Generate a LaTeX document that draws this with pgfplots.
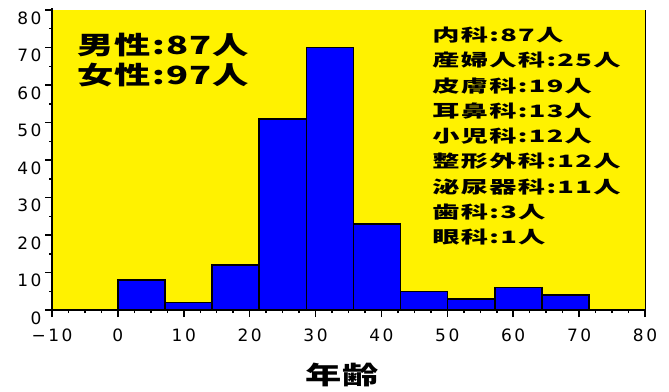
\documentclass[border=0pt]{standalone}
\usepackage{pgfplots}
\pgfplotsset{compat=1.18}
\usepackage{fontspec}
\newfontfamily\tickfont[LetterSpace=15]{DejaVu Sans}
\newfontfamily\cjk[FakeStretch=1.45,LetterSpace=5]{Noto Sans CJK JP}
\newfontfamily\cjkl[FakeStretch=1.6,LetterSpace=8]{Noto Sans CJK JP}
\tikzset{
  lst/.style={anchor=west, inner sep=0pt, font=\cjkl\bfseries\fontsize{17}{17}\selectfont},
  big/.style={anchor=west, inner sep=0pt, font=\cjk\bfseries\fontsize{25}{25}\selectfont},
}
\begin{document}
\begin{tikzpicture}
\begin{axis}[name=ax,
  scale only axis, width=593pt, height=300pt,
  xmin=-10, xmax=80, ymin=0, ymax=80,
  xtick={-10,0,...,80},
  xticklabels={−10,0,10,20,30,40,50,60,70,80},
  ytick={0,10,...,80},
  minor x tick num=3, minor y tick num=1,
  tick align=outside, xtick pos=bottom, ytick pos=left,
  major tick length=7pt, minor tick length=3pt,
  every tick/.style={black, line width=1.5pt},
  axis line style={draw=none},
  axis background/.style={fill=yellow},
  /pgf/number format/assume math mode=true,
  tick label style={font=\tickfont\fontsize{17}{17}\selectfont},
  x tick label style={yshift=-8pt},
  y tick label style={yshift=-8pt},
  clip=false,
]
\addplot[ybar interval, fill=blue, draw=black, line width=1.5pt]
  coordinates {(0,8)(7.15,2)(14.3,12)(21.45,51)(28.6,70)(35.75,23)(42.9,5)(50.05,3)(57.2,6)(64.35,4)(71.5,4)};
\draw[line width=1pt] (rel axis cs:1,0) -- (rel axis cs:1,1);
\draw[line width=2.5pt] (rel axis cs:0,1.005) -- (rel axis cs:0,0) -- (rel axis cs:1,0);
\node[big] at (rel axis cs:0.042,0.883) {男性:87人};
\node[big] at (rel axis cs:0.042,0.783) {女性:97人};
\node[lst] at (rel axis cs:0.641,0.9167) {内科:87人};
\node[lst] at (rel axis cs:0.641,0.8323) {産婦人科:25人};
\node[lst] at (rel axis cs:0.641,0.7480) {皮膚科:19人};
\node[lst] at (rel axis cs:0.641,0.6637) {耳鼻科:13人};
\node[lst] at (rel axis cs:0.641,0.5793) {小児科:12人};
\node[lst] at (rel axis cs:0.641,0.4950) {整形外科:12人};
\node[lst] at (rel axis cs:0.641,0.4107) {泌尿器科:11人};
\node[lst] at (rel axis cs:0.641,0.3263) {歯科:3人};
\node[lst] at (rel axis cs:0.641,0.2420) {眼科:1人};
\node[inner sep=0pt, font=\cjk\bfseries\fontsize{25}{25}\selectfont] at (rel axis cs:0.489,-0.2167) {年齢};
\end{axis}
\pgfresetboundingbox
\path ([shift={(-52pt,-81pt)}]ax.south west) rectangle ([shift={(24pt,10pt)}]ax.north east);
\end{tikzpicture}
\end{document}
